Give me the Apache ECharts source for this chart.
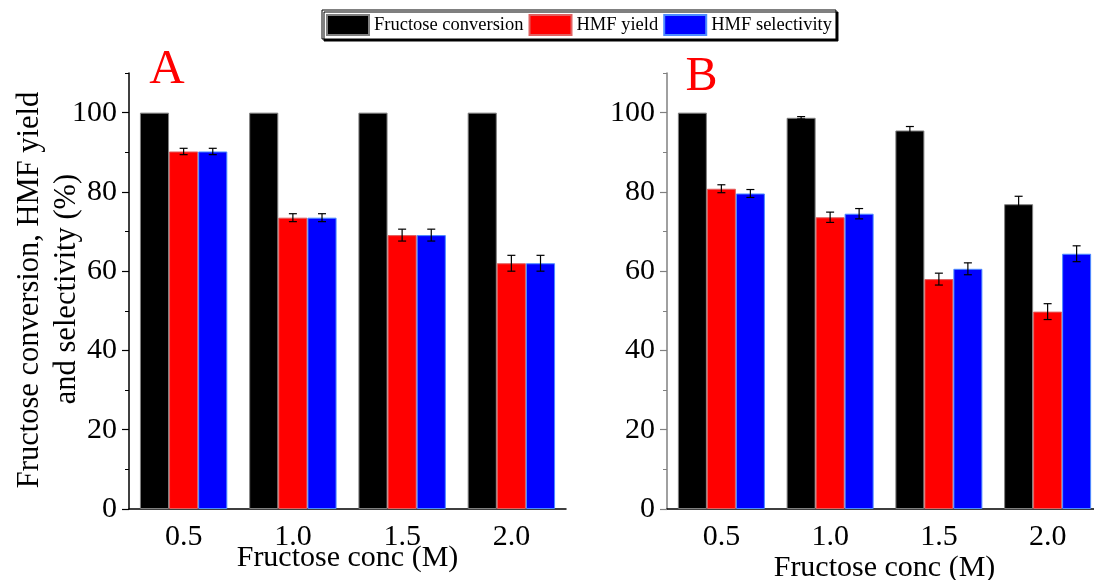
<!DOCTYPE html>
<html>
<head>
<meta charset="utf-8">
<script src="https://cdn.jsdelivr.net/npm/echarts@6/dist/echarts.min.js"></script>
<style>html,body{margin:0;padding:0;background:#fff;overflow:hidden}#c{width:1094px;height:580px}</style>
</head>
<body>
<div id="c"></div>
<script>
var categories = ['0.5', '1.0', '1.5', '2.0'];
var seriesNames = ['Fructose conversion', 'HMF yield', 'HMF selectivity'];
var yTicks = [0, 20, 40, 60, 80, 100];

var A_conv = [100, 100, 100, 100];
var A_conv_err = [0, 0, 0, 0];
var A_yield = [90.2, 73.5, 69.1, 62.0];
var A_yield_err = [0.8, 1.0, 1.5, 2.0];
var A_sel = [90.2, 73.5, 69.1, 62.0];
var A_sel_err = [0.8, 1.0, 1.5, 2.0];

var B_conv = [100, 98.7, 95.5, 76.9];
var B_conv_err = [0, 0.3, 1.0, 2.0];
var B_yield = [80.8, 73.6, 58.0, 49.8];
var B_yield_err = [1.0, 1.3, 1.5, 2.0];
var B_sel = [79.6, 74.5, 60.6, 64.4];
var B_sel_err = [1.0, 1.3, 1.5, 2.0];

var FONT = 'Liberation Serif';
var colors = ['#000000', '#ff0000', '#0000ff'];
var borders = ['#808080', '#e06060', '#4d8cff'];

var chart = echarts.init(document.getElementById('c'), null, {renderer: 'canvas'});

function errRender(offsetIdx) {
  return function (params, api) {
    var x = api.value(0), v = api.value(1), e = api.value(2);
    if (!e) return null;
    var band = api.size([1, 0])[0];
    var bw = band * 0.8 / 3;
    var cx = api.coord([x, v])[0] + (offsetIdx - 1) * bw;
    var yTop = api.coord([x, v + e])[1];
    var yBot = api.coord([x, v - e])[1];
    var cap = 4;
    var st = {stroke: '#000', lineWidth: 1.2};
    return {
      type: 'group',
      children: [
        {type: 'line', shape: {x1: cx, y1: yTop, x2: cx, y2: yBot}, style: st},
        {type: 'line', shape: {x1: cx - cap, y1: yTop, x2: cx + cap, y2: yTop}, style: st},
        {type: 'line', shape: {x1: cx - cap, y1: yBot, x2: cx + cap, y2: yBot}, style: st}
      ]
    };
  };
}

function zipErr(vals, errs) {
  return vals.map(function (v, i) { return [i, v, errs[i]]; });
}

function xAxesFor(grid, nameGap) {
  return [
    {
      type: 'category', gridIndex: grid, data: categories, position: 'bottom',
      axisLine: {lineStyle: {color: '#000', width: 1.5}},
      axisTick: {alignWithLabel: true, length: 7, lineStyle: {color: '#000', width: 1.2}},
      axisLabel: {fontFamily: FONT, fontSize: 30, color: '#000', margin: 13},
      name: 'Fructose conc (M)', nameLocation: 'middle', nameGap: nameGap,
      nameMoveOverlap: false,
      nameTextStyle: {fontFamily: FONT, fontSize: 30, color: '#000'}
    },
    {
      type: 'category', gridIndex: grid, data: categories, position: 'bottom',
      axisLine: {show: false},
      axisTick: {length: 5, lineStyle: {color: '#000', width: 1}},
      axisLabel: {show: false}
    }
  ];
}

function yAxesFor(grid, color) {
  return [
    {
      type: 'value', gridIndex: grid, min: 0, max: 110, interval: 10, position: 'left',
      axisLine: {show: true, lineStyle: {color: color, width: 1.5}},
      axisTick: {show: true, length: 7, customValues: yTicks, lineStyle: {color: color, width: 1.2}},
      axisLabel: {customValues: yTicks, fontFamily: FONT, fontSize: 30, color: '#000', margin: 12},
      splitLine: {show: false}
    },
    {
      type: 'value', gridIndex: grid, min: 0, max: 110, interval: 10, position: 'left',
      axisLine: {show: false},
      axisTick: {show: true, length: 4, lineStyle: {color: color, width: 1}},
      axisLabel: {show: false},
      splitLine: {show: false}
    }
  ];
}

var panels = [
  {grid: 0, data: [A_conv, A_yield, A_sel], errs: [A_conv_err, A_yield_err, A_sel_err]},
  {grid: 1, data: [B_conv, B_yield, B_sel], errs: [B_conv_err, B_yield_err, B_sel_err]}
];

var series = [];
panels.forEach(function (p) {
  for (var k = 0; k < 3; k++) {
    series.push({
      type: 'bar', name: seriesNames[k],
      xAxisIndex: p.grid * 2, yAxisIndex: p.grid * 2,
      data: p.data[k],
      barGap: '0%', barCategoryGap: '20%',
      itemStyle: {color: colors[k], borderColor: borders[k], borderWidth: 1},
      emphasis: {disabled: true},
      animation: false
    });
  }
  for (var k2 = 0; k2 < 3; k2++) {
    series.push({
      type: 'custom', name: 'err' + p.grid + k2,
      xAxisIndex: p.grid * 2, yAxisIndex: p.grid * 2,
      renderItem: errRender(k2),
      data: zipErr(p.data[k2], p.errs[k2]),
      encode: {x: 0, y: 1},
      z: 10, animation: false, silent: true
    });
  }
});

var option = {
  backgroundColor: '#fff',
  animation: false,
  legend: {
    data: seriesNames,
    left: 322, top: 10,
    padding: [4, 4, 3, 4],
    icon: 'rect',
    itemWidth: 42, itemHeight: 20, itemGap: 5,
    borderColor: '#000', borderWidth: 1,
    backgroundColor: '#fff',
    shadowColor: '#000', shadowBlur: 0, shadowOffsetX: 2, shadowOffsetY: 2,
    textStyle: {fontFamily: FONT, fontSize: 18.5, color: '#000', padding: [0, 0, 0, 0]},
    selectedMode: false
  },
  grid: [
    {left: 129, top: 73, width: 437, height: 436, outerBoundsMode: 'none', containLabel: false},
    {left: 667, top: 73, width: 435, height: 436, outerBoundsMode: 'none', containLabel: false}
  ],
  xAxis: xAxesFor(0, 34).concat(xAxesFor(1, 44)),
  yAxis: yAxesFor(0, '#000').concat(yAxesFor(1, '#808080')),
  graphic: [
    {type: 'text', x: 30, y: 290, rotation: Math.PI / 2,
      style: {text: 'Fructose conversion, HMF yield', fontFamily: FONT, fontSize: 30.5, fill: '#000', align: 'center', verticalAlign: 'middle'}},
    {type: 'text', x: 67, y: 289, rotation: Math.PI / 2,
      style: {text: 'and selectivity (%)', fontFamily: FONT, fontSize: 30.5, fill: '#000', align: 'center', verticalAlign: 'middle'}},
    {type: 'text', x: 167, y: 70,
      style: {text: 'A', fontFamily: FONT, fontSize: 49, fill: '#ff0000', align: 'center', verticalAlign: 'middle'}},
    {type: 'text', x: 701.5, y: 77.5,
      style: {text: 'B', fontFamily: FONT, fontSize: 48, fill: '#ff0000', align: 'center', verticalAlign: 'middle'}}
  ],
  series: series
};
chart.setOption(option);
</script>
</body>
</html>
